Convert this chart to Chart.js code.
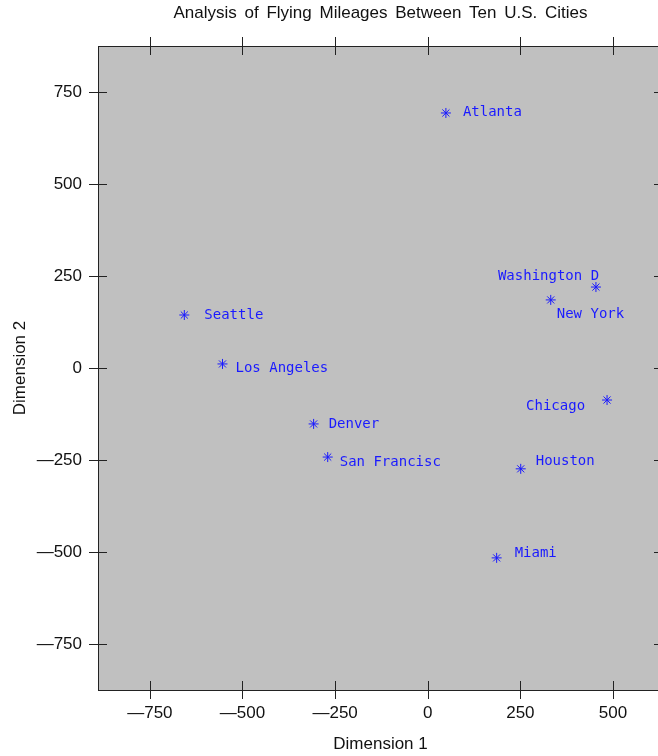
<!DOCTYPE html>
<html>
<head>
<meta charset="utf-8">
<script src="https://cdn.jsdelivr.net/npm/chart.js@4/dist/chart.umd.min.js"></script>
<style>
  html, body { margin: 0; padding: 0; background: #ffffff; overflow: hidden; }
  #wrap { width: 680px; height: 756px; }
</style>
</head>
<body>
<div id="wrap"><canvas id="c" width="680" height="756"></canvas></div>
<script>
// City positions on the two MDS dimensions
const cities = ['Atlanta', 'Chicago', 'Denver', 'Houston', 'Los Angeles',
                'Miami', 'New York', 'San Francisco', 'Seattle', 'Washington DC'];
const dim1 = [49, 484, -308, 251, -554, 186, 332, -270, -657, 454];
const dim2 = [693, -87, -152, -274, 11, -516, 185, -242, 144, 220];

const xTicks = [-750, -500, -250, 0, 250, 500];
const yTicks = [-750, -500, -250, 0, 250, 500, 750];

// Point labels are cut to 12 characters
const shortName = s => s.slice(0, 12);

// Text anchor offsets (px) of each label from its marker
const labelOffsets = [
  [17, -1], [-81, 6], [15, 0], [15, -7], [13, 4],
  [18, -5], [6, 14], [12, 5], [20, 0], [-98, -11]
];

const fmt = v => v < 0 ? '\u2014' + Math.abs(v) : String(v);
const axisFont = { family: '"Liberation Sans", Arial, sans-serif', size: 17 };

const framePlugin = {
  id: 'frame',
  beforeDraw(chart) {
    const { ctx, chartArea: a } = chart;
    ctx.save();
    ctx.fillStyle = '#c0c0c0';
    ctx.fillRect(a.left, a.top, a.right - a.left, a.bottom - a.top);
    ctx.restore();
  },
  afterDraw(chart) {
    const { ctx, chartArea: a, scales } = chart;
    ctx.save();
    ctx.strokeStyle = '#222';
    ctx.lineWidth = 1;
    ctx.strokeRect(a.left + 0.5, a.top + 0.5, a.right - a.left, a.bottom - a.top);
    ctx.beginPath();
    const L = 9;
    xTicks.forEach(v => {
      const x = Math.round(scales.x.getPixelForValue(v)) + 0.5;
      ctx.moveTo(x, a.top - L); ctx.lineTo(x, a.top + L);
      ctx.moveTo(x, a.bottom - L); ctx.lineTo(x, a.bottom + L);
    });
    yTicks.forEach(v => {
      const y = Math.round(scales.y.getPixelForValue(v)) + 0.5;
      ctx.moveTo(a.left - L, y); ctx.lineTo(a.left + L, y);
      ctx.moveTo(a.right - L, y); ctx.lineTo(a.right + L, y);
    });
    ctx.stroke();

    // chart title centred over the plot
    ctx.fillStyle = '#111';
    ctx.font = '17px "Liberation Sans", Arial, sans-serif';
    ctx.wordSpacing = '3px';
    ctx.textAlign = 'center';
    ctx.textBaseline = 'middle';
    ctx.fillText('Analysis of Flying Mileages Between Ten U.S. Cities', (a.left + a.right) / 2, 13);
    ctx.wordSpacing = '0px';

    // city labels
    ctx.fillStyle = '#1a1aff';
    ctx.font = '14px "DejaVu Sans Mono", monospace';
    ctx.textAlign = 'left';
    const meta = chart.getDatasetMeta(0);
    meta.data.forEach((pt, i) => {
      const [dx, dy] = labelOffsets[i];
      ctx.fillText(shortName(cities[i]), pt.x + dx, pt.y + dy);
    });
    ctx.restore();
  }
};

new Chart(document.getElementById('c'), {
  type: 'scatter',
  data: {
    datasets: [{
      data: dim1.map((x, i) => ({ x, y: dim2[i] })),
      pointStyle: 'star',
      pointRadius: 5,
      pointHoverRadius: 5,
      borderColor: '#1a1aff',
      backgroundColor: '#1a1aff',
      borderWidth: 1
    }]
  },
  options: {
    responsive: false,
    animation: false,
    events: [],
    layout: { padding: { top: 46, right: 17, left: 0, bottom: 0 } },
    plugins: { legend: { display: false }, tooltip: { enabled: false } },
    scales: {
      x: {
        type: 'linear',
        min: -890, max: 635,
        grid: { display: false },
        border: { display: false },
        afterBuildTicks: s => { s.ticks = xTicks.map(v => ({ value: v })); },
        afterFit: s => { s.height = 66; },
        ticks: {
          padding: 5,
          color: '#111',
          font: axisFont,
          callback: v => fmt(v),
          maxRotation: 0
        },
        title: {
          display: true, text: 'Dimension 1', color: '#111',
          font: axisFont,
          padding: { top: 0, bottom: 1 }
        }
      },
      y: {
        type: 'linear',
        min: -875, max: 875,
        grid: { display: false },
        border: { display: false },
        afterBuildTicks: s => { s.ticks = yTicks.map(v => ({ value: v })); },
        afterFit: s => { s.width = 98; },
        ticks: {
          padding: 8,
          color: '#111',
          font: axisFont,
          callback: v => fmt(v)
        },
        title: {
          display: true, text: 'Dimension 2', color: '#111',
          font: axisFont,
          padding: { top: 10, bottom: 0 }
        }
      }
    }
  },
  plugins: [framePlugin]
});
</script>
</body>
</html>
